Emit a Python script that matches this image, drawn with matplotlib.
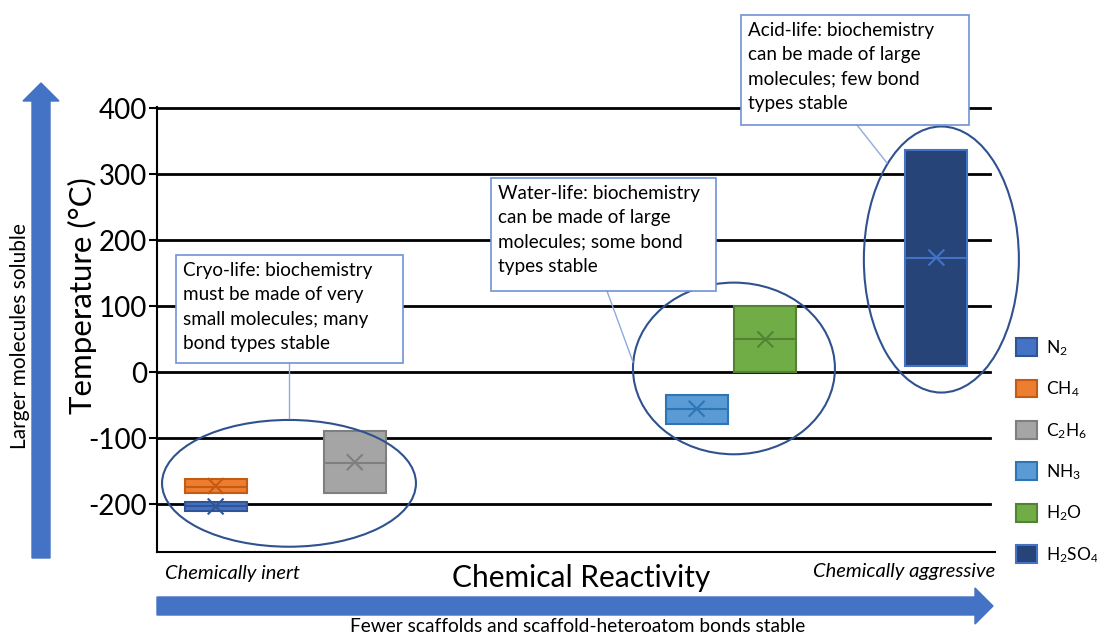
import matplotlib
matplotlib.use("Agg")
import matplotlib.pyplot as plt
from matplotlib.patches import Ellipse, Rectangle, FancyArrow, Patch
from matplotlib.lines import Line2D

plt.rcParams['font.family'] = ['Lato', 'DejaVu Sans']
plt.rcParams['mathtext.fontset'] = 'custom'
plt.rcParams['mathtext.rm'] = 'Lato'
plt.rcParams['mathtext.it'] = 'Lato'
plt.rcParams['axes.unicode_minus'] = False

# Liquid ranges (deg C) of each solvent
solvents = ['N$_2$', 'CH$_4$', 'C$_2$H$_6$', 'NH$_3$', 'H$_2$O', 'H$_2$SO$_4$']
low = [-210, -182, -183, -78, 0, 10]
high = [-196, -162, -89, -34, 100, 337]
median = [-203, -173, -137, -56, 50, 174]
mean = [-203, -172, -136, -55, 50, 174]

colors = ['#4472C4', '#ED7D31', '#A5A5A5', '#5B9BD5', '#70AD47', '#264478']
edges = ['#2F5597', '#C55A11', '#7F7F7F', '#2E75B6', '#548235', '#4472C4']
xpos = [0.70, 0.70, 2.36, 6.44, 7.26, 9.30]

W, H = 1097, 635
fig = plt.figure(figsize=(W / 100, H / 100), dpi=100)


def fx(px):
    return px / W


def fy(py):
    return 1 - py / H


ax = fig.add_axes([fx(157), fy(552), fx(995) - fx(157), fy(107) - fy(552)])
ax.set_xlim(0, 10)
ax.set_ylim(-272, 402)

# gridlines
for y in range(-200, 401, 100):
    ax.axhline(y, xmin=0, xmax=0.994, color='black', lw=2, zorder=1)

# boxes
ax.bar(xpos, [h - l for h, l in zip(high, low)], bottom=low, width=0.74,
       color=colors, edgecolor=edges, linewidth=1.5, zorder=3)
for x, m, e in zip(xpos, median, edges):
    ax.hlines(m, x - 0.37, x + 0.37, color=e, lw=1.5, zorder=4)
ax.scatter(xpos, mean, marker='x', s=130, c=edges, linewidths=1.5, zorder=5)

# ellipses grouping the life types
groups = [(1.575, -168, 3.03, 192), (6.885, 6, 2.41, 260), (9.36, 171, 1.85, 403)]
for cx, cy, w, h in groups:
    ax.add_patch(Ellipse((cx, cy), w, h, fill=False, edgecolor='#2F528F',
                         lw=1.5, zorder=6, clip_on=False))

ax.set_yticks(range(-200, 401, 100))
ax.set_xticks([])
ax.tick_params(axis='y', direction='out', length=6, width=1.5, labelsize=20, pad=1)
for s in ['top', 'right']:
    ax.spines[s].set_visible(False)
ax.spines['left'].set_linewidth(1.5)
ax.spines['bottom'].set_linewidth(1.5)

fig.text(fx(82), fy(296), 'Temperature (°C)', rotation=90, fontsize=22.5,
         ha='center', va='center')

# annotation boxes (pixel layout)
notes = [
    ((176, 255, 403, 363), 'Cryo-life: biochemistry\nmust be made of very\nsmall molecules; many\nbond types stable',
     ((289, 363), (289, 418))),
    ((491, 178, 716, 291), 'Water-life: biochemistry\ncan be made of large\nmolecules; some bond\ntypes stable',
     ((607, 291), (633, 362))),
    ((741, 15, 969, 125), 'Acid-life: biochemistry\ncan be made of large\nmolecules; few bond\ntypes stable',
     ((857, 125), (887, 163))),
]
for (x0, y0, x1, y1), txt, (p0, p1) in notes:
    fig.add_artist(Line2D([fx(p0[0]), fx(p1[0])], [fy(p0[1]), fy(p1[1])],
                          color='#8FAADC', lw=1, zorder=7))
    fig.add_artist(Rectangle((fx(x0), fy(y1)), fx(x1) - fx(x0), fy(y0) - fy(y1),
                             facecolor='white', edgecolor='#6F93D3', lw=1.2, zorder=8))
    fig.text(fx(x0 + 7), fy(y0 + 7), txt, fontsize=13.6, ha='left', va='top',
             linespacing=1.53, zorder=9)

# legend
handles = [Patch(facecolor=c, edgecolor=e, linewidth=1.5) for c, e in zip(colors, edges)]
fig.legend(handles, solvents, loc='upper left', bbox_to_anchor=(fx(1016), fy(338)),
           frameon=False, fontsize=12.5, handlelength=1.2, handleheight=1.2,
           labelspacing=1.25, handletextpad=0.5, borderpad=0, borderaxespad=0)

# reactivity labels
fig.text(fx(581), fy(578), 'Chemical Reactivity', fontsize=21.5, ha='center', va='center')
fig.text(fx(165), fy(573), 'Chemically inert', fontsize=14.5, style='italic', ha='left', va='center')
fig.text(fx(995), fy(572), 'Chemically aggressive', fontsize=14.5, style='italic', ha='right', va='center')

# arrows
arrow_kw = dict(color='#4472C4', length_includes_head=True, transform=fig.dpi_scale_trans)
fig.add_artist(FancyArrow(157 / 100, (H - 606) / 100, (993 - 157) / 100, 0,
                          width=0.18, head_width=0.36, head_length=0.18, **arrow_kw))
fig.add_artist(FancyArrow(41 / 100, (H - 558) / 100, 0, (558 - 83) / 100,
                          width=0.18, head_width=0.36, head_length=0.18, **arrow_kw))
fig.text(fx(578), fy(627), 'Fewer scaffolds and scaffold-heteroatom bonds stable',
         fontsize=13.8, ha='center', va='center')
fig.text(fx(20), fy(336), 'Larger molecules soluble', fontsize=15, rotation=90,
         ha='center', va='center')

fig.savefig('out.png', dpi=100)
